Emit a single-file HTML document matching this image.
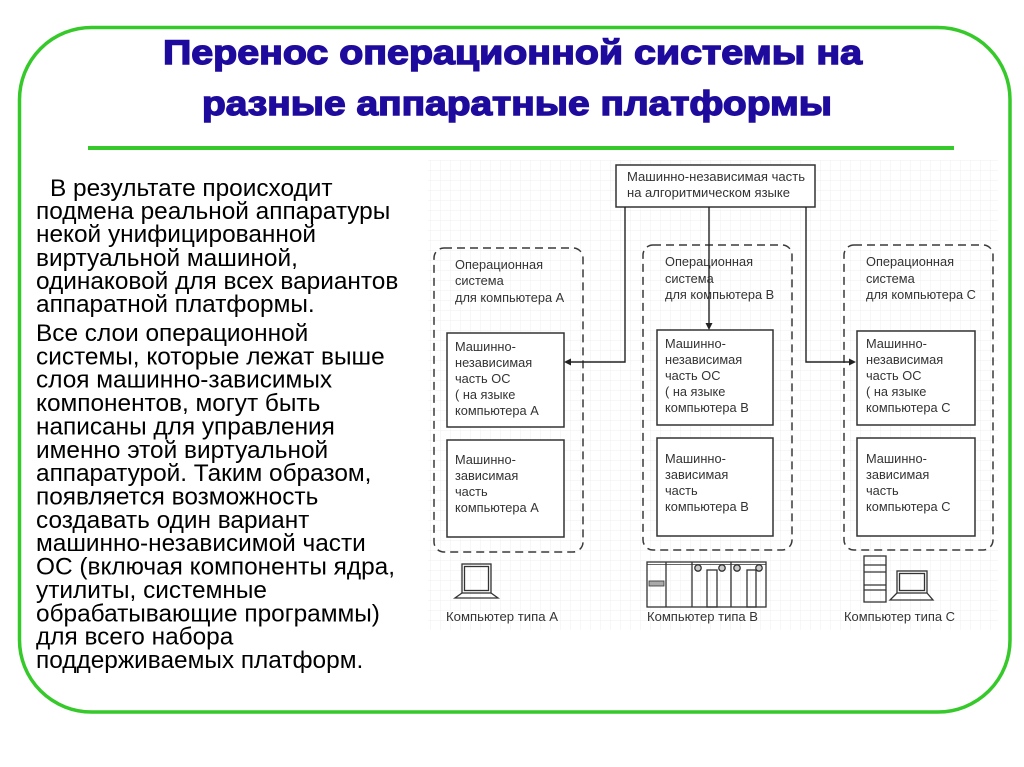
<!DOCTYPE html>
<html>
<head>
<meta charset="utf-8">
<style>
  html,body{margin:0;padding:0;background:#fff;}
  svg{display:block;}
  .t{font-family:"Liberation Sans","DejaVu Sans",sans-serif;}
  .body{font-size:24.4px;fill:#000;}
  .d{font-size:12.8px;fill:#333;}
</style>
</head>
<body>
<svg width="1024" height="767" viewBox="0 0 1024 767" xmlns="http://www.w3.org/2000/svg">
  <defs>
    <pattern id="g" width="10" height="10" patternUnits="userSpaceOnUse">
      <path d="M10 0H0V10" fill="none" stroke="#efefef" stroke-width="1"/>
    </pattern>
  </defs>
  <rect x="0" y="0" width="1024" height="767" fill="#fff"/>

  <!-- outer rounded frame -->
  <rect x="19.5" y="27.5" width="990.5" height="684.5" rx="72" ry="72" fill="none" stroke="#35c92a" stroke-width="3.5"/>

  <!-- title -->
  <g class="t" font-weight="bold" fill="#1e0a9c" stroke="#1e0a9c" stroke-width="1.4">
    <text x="163" y="64" font-size="34" textLength="699" lengthAdjust="spacingAndGlyphs">Перенос операционной системы на</text>
    <text x="202" y="115" font-size="34" textLength="630" lengthAdjust="spacingAndGlyphs">разные аппаратные платформы</text>
  </g>
  <rect x="88" y="146" width="866" height="4" fill="#35c92a"/>

  <!-- left text -->
  <g class="t body">
    <text x="50" y="196">В результате происходит</text>
    <text x="36" y="219">подмена реальной аппаратуры</text>
    <text x="36" y="242">некой унифицированной</text>
    <text x="36" y="266">виртуальной машиной,</text>
    <text x="36" y="289">одинаковой для всех вариантов</text>
    <text x="36" y="312">аппаратной платформы.</text>

    <text x="36" y="341">Все слои операционной</text>
    <text x="36" y="364.4">системы, которые лежат выше</text>
    <text x="36" y="387.7">слоя машинно-зависимых</text>
    <text x="36" y="411.1">компонентов, могут быть</text>
    <text x="36" y="434.4">написаны для управления</text>
    <text x="36" y="457.8">именно этой виртуальной</text>
    <text x="36" y="481.2">аппаратурой. Таким образом,</text>
    <text x="36" y="504.5">появляется возможность</text>
    <text x="36" y="527.9">создавать один вариант</text>
    <text x="36" y="551.2">машинно-независимой части</text>
    <text x="36" y="574.6">ОС (включая компоненты ядра,</text>
    <text x="36" y="598">утилиты, системные</text>
    <text x="36" y="621.3">обрабатывающие программы)</text>
    <text x="36" y="644.7">для всего набора</text>
    <text x="36" y="668">поддерживаемых платформ.</text>
  </g>

  <!-- diagram grid background -->
  <rect x="428" y="160" width="570" height="470" fill="url(#g)"/>

  <!-- top box -->
  <rect x="616" y="165" width="199" height="42" fill="#fff" stroke="#333" stroke-width="1.5"/>
  <g class="t d">
    <text x="627" y="181" textLength="178" lengthAdjust="spacingAndGlyphs">Машинно-независимая часть</text>
    <text x="627" y="197" textLength="163" lengthAdjust="spacingAndGlyphs">на алгоритмическом языке</text>
  </g>

  <!-- dashed OS boxes -->
  <g fill="none" stroke="#3a3a3a" stroke-width="1.5" stroke-dasharray="8 5">
    <rect x="434" y="248" width="149" height="304" rx="10" ry="10"/>
    <rect x="643" y="245" width="149" height="305" rx="10" ry="10"/>
    <rect x="844" y="245" width="149" height="305" rx="10" ry="10"/>
  </g>

  <!-- inner solid boxes -->
  <g fill="#fff" stroke="#333" stroke-width="1.5">
    <rect x="447" y="333" width="117" height="94"/>
    <rect x="447" y="440" width="117" height="97"/>
    <rect x="657" y="330" width="116" height="95"/>
    <rect x="657" y="438" width="116" height="98"/>
    <rect x="857" y="331" width="118" height="94"/>
    <rect x="857" y="438" width="118" height="98"/>
  </g>

  <!-- connectors -->
  <g fill="none" stroke="#222" stroke-width="1.4">
    <path d="M625 207V362H570"/>
    <path d="M709 207V324"/>
    <path d="M806 207V362H850"/>
  </g>
  <g fill="#222">
    <polygon points="564,362 571,358.5 571,365.5"/>
    <polygon points="709,330 705.5,323 712.5,323"/>
    <polygon points="856,362 849,358.5 849,365.5"/>
  </g>

  <!-- diagram text -->
  <g class="t d">
    <!-- A -->
    <text x="455" y="269">Операционная</text>
    <text x="455" y="285">система</text>
    <text x="455" y="302">для компьютера А</text>
    <text x="455" y="351">Машинно-</text>
    <text x="455" y="367">независимая</text>
    <text x="455" y="383">часть ОС</text>
    <text x="455" y="399">( на языке</text>
    <text x="455" y="415">компьютера А</text>
    <text x="455" y="464">Машинно-</text>
    <text x="455" y="480">зависимая</text>
    <text x="455" y="496">часть</text>
    <text x="455" y="512">компьютера А</text>
    <!-- B -->
    <text x="665" y="266">Операционная</text>
    <text x="665" y="283">система</text>
    <text x="665" y="299">для компьютера В</text>
    <text x="665" y="348">Машинно-</text>
    <text x="665" y="364">независимая</text>
    <text x="665" y="380">часть ОС</text>
    <text x="665" y="396">( на языке</text>
    <text x="665" y="412">компьютера В</text>
    <text x="665" y="463">Машинно-</text>
    <text x="665" y="479">зависимая</text>
    <text x="665" y="495">часть</text>
    <text x="665" y="511">компьютера В</text>
    <!-- C -->
    <text x="866" y="266">Операционная</text>
    <text x="866" y="283">система</text>
    <text x="866" y="299">для компьютера С</text>
    <text x="866" y="348">Машинно-</text>
    <text x="866" y="364">независимая</text>
    <text x="866" y="380">часть ОС</text>
    <text x="866" y="396">( на языке</text>
    <text x="866" y="412">компьютера С</text>
    <text x="866" y="463">Машинно-</text>
    <text x="866" y="479">зависимая</text>
    <text x="866" y="495">часть</text>
    <text x="866" y="511">компьютера С</text>
    <!-- labels -->
    <text x="446" y="621" textLength="112" lengthAdjust="spacingAndGlyphs">Компьютер типа А</text>
    <text x="647" y="621" textLength="111" lengthAdjust="spacingAndGlyphs">Компьютер типа В</text>
    <text x="844" y="621" textLength="111" lengthAdjust="spacingAndGlyphs">Компьютер типа С</text>
  </g>

  <!-- computer A: laptop -->
  <g fill="none" stroke="#333" stroke-width="1.3">
    <rect x="462" y="564" width="29" height="29"/>
    <rect x="464.5" y="566.5" width="24" height="24"/>
    <path d="M462 593L455 598H498L491 593"/>
  </g>

  <!-- computer B: rack -->
  <g fill="none" stroke="#333" stroke-width="1.3">
    <rect x="647" y="562" width="119" height="45"/>
    <line x1="647" y1="564.5" x2="766" y2="564.5" stroke-width="0.8"/>
    <line x1="666" y1="562" x2="666" y2="607"/>
    <line x1="692" y1="562" x2="692" y2="607"/>
    <line x1="731" y1="562" x2="731" y2="607"/>
    <rect x="707" y="570" width="10" height="37"/>
    <rect x="747" y="570" width="9" height="37"/>
    <circle cx="698" cy="568" r="3.2" fill="#ccc"/>
    <circle cx="722" cy="568" r="3.2" fill="#ccc"/>
    <circle cx="737" cy="568" r="3.2" fill="#ccc"/>
    <circle cx="759" cy="568" r="3.2" fill="#ccc"/>
    <rect x="649" y="581" width="15" height="5" fill="#aaa" stroke-width="0.8"/>
  </g>

  <!-- computer C: tower + laptop -->
  <g fill="none" stroke="#333" stroke-width="1.3">
    <rect x="864" y="556" width="22" height="46"/>
    <line x1="864" y1="565" x2="886" y2="565"/>
    <line x1="864" y1="572" x2="886" y2="572"/>
    <line x1="864" y1="585" x2="886" y2="585"/>
    <line x1="864" y1="590" x2="886" y2="590"/>
    <rect x="897" y="571" width="30" height="22"/>
    <rect x="899.5" y="573.5" width="25" height="17"/>
    <path d="M897 593L890 600H933L927 593"/>
  </g>
</svg>
</body>
</html>
